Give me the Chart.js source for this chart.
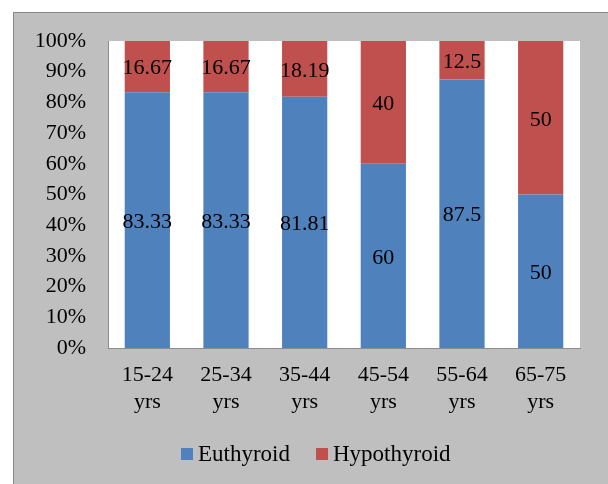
<!DOCTYPE html>
<html><head><meta charset="utf-8">
<style>html,body{margin:0;padding:0;background:#fff;}#wrap{position:absolute;left:0;top:0;width:608px;height:484px;}</style>
<script src="https://cdn.jsdelivr.net/npm/chart.js@4/dist/chart.umd.min.js"></script>
</head><body><div id="wrap"><canvas id="c" width="608" height="484"></canvas></div>
<script>
const categories = [["15-24","yrs"],["25-34","yrs"],["35-44","yrs"],["45-54","yrs"],["55-64","yrs"],["65-75","yrs"]];
const euthyroid = [83.33, 83.33, 81.81, 60, 87.5, 50];
const hypothyroid = [16.67, 16.67, 18.19, 40, 12.5, 50];
const euthyroidLabels = ["83.33","83.33","81.81","60","87.5","50"];
const hypothyroidLabels = ["16.67","16.67","18.19","40","12.5","50"];
const FONT = "'Liberation Serif', 'Times New Roman', serif";

const bgPlugin = {
  id: 'bg',
  beforeDraw(chart) {
    const ctx = chart.ctx, a = chart.chartArea;
    ctx.save();
    ctx.fillStyle = '#fff';
    ctx.fillRect(0,0,chart.width,chart.height);
    ctx.fillStyle = '#BFBFBF';
    ctx.fillRect(13,12,chart.width,chart.height);
    ctx.strokeStyle = '#888';
    ctx.lineWidth = 1;
    ctx.beginPath();
    ctx.moveTo(13.5, chart.height); ctx.lineTo(13.5,12.5); ctx.lineTo(chart.width,12.5);
    ctx.stroke();
    ctx.fillStyle = '#fff';
    ctx.fillRect(a.left, a.top, a.right-a.left, a.bottom-a.top);
    ctx.restore();
  }
};
const labelPlugin = {
  id: 'lbl',
  afterDatasetsDraw(chart) {
    const ctx = chart.ctx;
    ctx.save();
    ctx.font = '22px ' + FONT;
    ctx.fillStyle = '#000';
    ctx.textAlign = 'center';
    ctx.textBaseline = 'middle';
    chart.data.datasets.forEach((ds, di) => {
      const meta = chart.getDatasetMeta(di);
      meta.data.forEach((bar, i) => {
        const y = (bar.y + bar.base) / 2;
        ctx.fillText(ds.labelsText[i], bar.x, y + 2);
      });
    });
    ctx.restore();
  }
};
// Legend drawn from the datasets: square + small gap + label
const legendPlugin = {
  id: 'customLegend',
  afterDraw(chart) {
    const ctx = chart.ctx;
    ctx.save();
    ctx.font = '23px ' + FONT;
    ctx.textBaseline = 'middle';
    ctx.textAlign = 'left';
    const box = 12, gap = 5, itemGap = 26;
    const items = chart.data.datasets.map(d => ({t: d.label, c: d.backgroundColor, w: ctx.measureText(d.label).width}));
    let total = 0;
    items.forEach((it, i) => { total += box + gap + it.w + (i ? itemGap : 0); });
    let x = Math.round(316 - total / 2);
    const cy = 454;
    items.forEach((it, i) => {
      if (i) x += itemGap;
      ctx.fillStyle = it.c;
      ctx.fillRect(x, cy - 6, box, box);
      x += box + gap;
      ctx.fillStyle = '#000';
      ctx.fillText(it.t, x, cy + 1);
      x += it.w;
    });
    ctx.restore();
  }
};

new Chart(document.getElementById('c'), {
  type: 'bar',
  data: {
    labels: categories,
    datasets: [
      {label: 'Euthyroid', data: euthyroid, labelsText: euthyroidLabels, backgroundColor: '#4F81BD', borderWidth: 0},
      {label: 'Hypothyroid', data: hypothyroid, labelsText: hypothyroidLabels, backgroundColor: '#C0504D', borderWidth: 0}
    ]
  },
  options: {
    responsive: false,
    animation: false,
    layout: {padding: {left: 0, right: 28, top: 41, bottom: 0}},
    datasets: {bar: {categoryPercentage: 1, barPercentage: 0.575}},
    plugins: {
      tooltip: {enabled: false},
      legend: {display: false}
    },
    scales: {
      x: {
        stacked: true,
        grid: {display: false, drawTicks: false},
        border: {color: '#8c8c8c'},
        ticks: {font: {family: FONT, size: 22, lineHeight: 1.23}, color: '#000', padding: 14, maxRotation: 0},
        afterFit(s) { s.height = 136; }
      },
      y: {
        stacked: true,
        min: 0, max: 100,
        grid: {display: false, drawTicks: false},
        border: {color: '#8c8c8c'},
        ticks: {stepSize: 10, font: {family: FONT, size: 22}, color: '#000', padding: 22, callback: v => v + '%'},
        afterFit(s) { s.width = 108; }
      }
    }
  },
  plugins: [bgPlugin, labelPlugin, legendPlugin]
});
</script></body></html>
